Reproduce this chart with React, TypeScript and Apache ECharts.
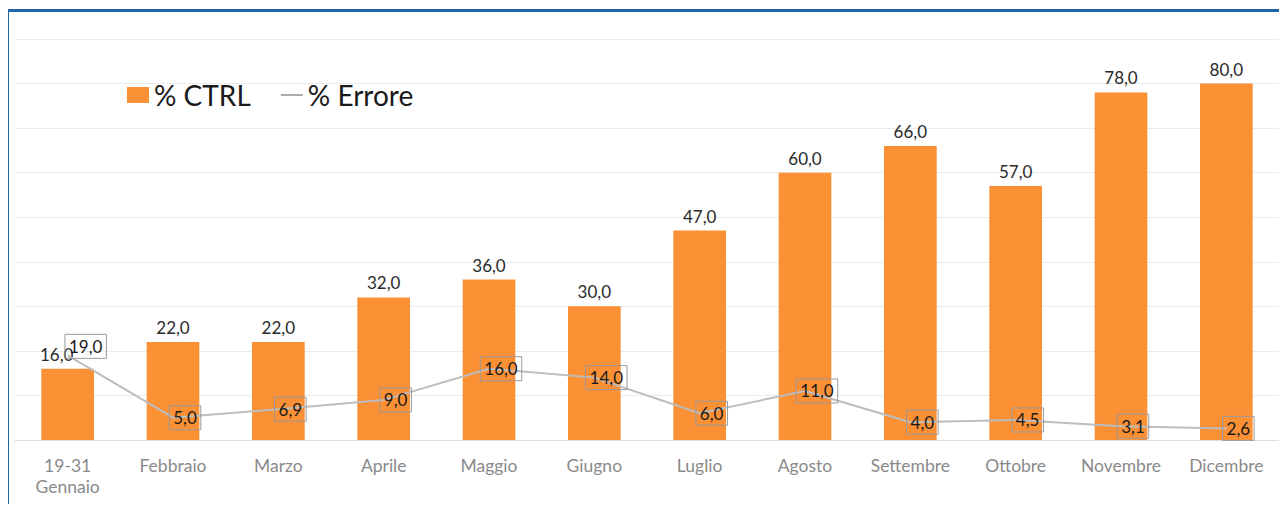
import React, { useEffect, useRef } from "react";
import * as echarts from "echarts";

const categories = ["19-31\nGennaio", "Febbraio", "Marzo", "Aprile", "Maggio", "Giugno", "Luglio", "Agosto", "Settembre", "Ottobre", "Novembre", "Dicembre"];
const ctrlValues = [16, 22, 22, 32, 36, 30, 47, 60, 66, 57, 78, 80];
const erroreValues = [19, 5, 6.9, 9, 16, 14, 6, 11, 4, 4.5, 3.1, 2.6];
const yTicks = [0, 10, 20, 30, 40, 50, 60, 70, 80, 90];

const fmt = (v: number) => v.toFixed(1).replace(".", ",");
const FONT = "Lato, 'Open Sans', sans-serif";

export default function App() {
  const ref = useRef<HTMLDivElement>(null);
  useEffect(() => {
    const chart = echarts.init(ref.current!, undefined, { renderer: "svg" });
    chart.setOption({
      animation: false,
      backgroundColor: "#ffffff",
      textStyle: { fontFamily: FONT },
      graphic: [
        {
          type: "polyline",
          shape: { points: [[7.5, 530], [7.5, 10.5], [1300, 10.5]] },
          style: { stroke: "#1f66a6", lineWidth: 3, fill: "none" },
          silent: true,
        },
      ],
      legend: {
        left: 122,
        top: 76,
        itemWidth: 22,
        itemHeight: 16,
        itemGap: 30,
        textStyle: { fontSize: 28, color: "#1a1a1a", fontFamily: FONT },
        data: [
          { name: "% CTRL", icon: "rect" },
          { name: "% Errore", icon: "path://M0,0 L20,0 L20,1.5 L0,1.5 Z", itemStyle: { color: "#9a9a9a" } },
        ],
      },
      grid: { left: 15, right: 8, top: 39, bottom: 72, containLabel: false },
      xAxis: {
        type: "category",
        data: categories,
        axisLine: { lineStyle: { color: "#dcdcdc", width: 1 } },
        axisTick: { show: false },
        axisLabel: { color: "#8a8a8a", fontSize: 17.5, margin: 15, lineHeight: 21, fontFamily: FONT },
      },
      yAxis: {
        type: "value",
        min: yTicks[0],
        max: yTicks[yTicks.length - 1],
        interval: 10,
        axisLabel: { show: false },
        axisLine: { show: false },
        axisTick: { show: false },
        splitLine: { lineStyle: { color: "#ebebeb", width: 1 } },
      },
      series: [
        {
          name: "% CTRL",
          type: "bar",
          data: ctrlValues.map((v, i) =>
            i === 0 ? { value: v, label: { offset: [-11, 0] } } : { value: v }
          ),
          barWidth: "50%",
          itemStyle: { color: "#fb9035" },
          label: {
            show: true,
            position: "top",
            distance: 6,
            formatter: (p: any) => fmt(p.value),
            fontSize: 17,
            color: "#2a2a2a",
            fontFamily: FONT,
          },
        },
        {
          name: "% Errore",
          type: "line",
          data: erroreValues.map((v, i) =>
            i === 0 ? { value: v, label: { offset: [18, -9] } } : { value: v }
          ),
          symbol: "circle",
          symbolSize: 1,
          showSymbol: true,
          lineStyle: { color: "#bdbdbd", width: 2 },
          itemStyle: { color: "rgba(0,0,0,0)" },
          z: 3,
          label: {
            show: true,
            position: "inside",
            offset: [12, 0],
            formatter: (p: any) => fmt(p.value),
            fontSize: 17,
            color: "#1a1a1a",
            borderColor: "#9a9a9a",
            borderWidth: 1,
            padding: [4, 4, 3, 4],
            fontFamily: FONT,
          },
        },
      ],
    });
    return () => chart.dispose();
  }, []);
  return <div ref={ref} style={{ width: 1287, height: 512, margin: -8 }} />;
}
